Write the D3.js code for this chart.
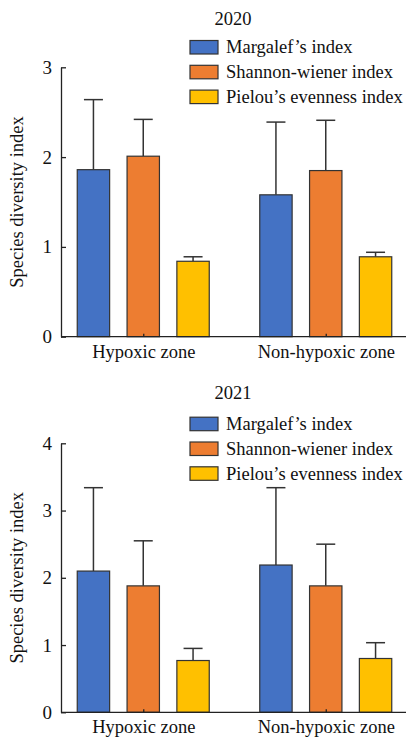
<!DOCTYPE html>
<html>
<head>
<meta charset="utf-8">
<script src="https://cdn.jsdelivr.net/npm/d3@7/dist/d3.min.js"></script>
<style>
  body { margin: 0; background: #fff; }
  svg text { font-family: "Liberation Serif", "Times New Roman", serif; fill: #111; }
</style>
</head>
<body>
<svg id="chart" width="406" height="740"></svg>
<script>
// Data
var zones = ["Hypoxic zone", "Non-hypoxic zone"];
var indices = ["Margalef\u2019s index", "Shannon-wiener index", "Pielou\u2019s evenness index"];
var colors = ["#4472C4", "#ED7D31", "#FFC000"];

// mean per index, [hypoxic, non-hypoxic]
var margalef2020 = [1.86, 1.58];
var shannon2020 = [2.01, 1.85];
var pielou2020 = [0.84, 0.89];
var margalefSd2020 = [0.78, 0.81];
var shannonSd2020 = [0.41, 0.56];
var pielouSd2020 = [0.05, 0.05];

var margalef2021 = [2.10, 2.19];
var shannon2021 = [1.88, 1.88];
var pielou2021 = [0.77, 0.80];
var margalefSd2021 = [1.24, 1.15];
var shannonSd2021 = [0.67, 0.62];
var pielouSd2021 = [0.18, 0.235];

var yTicks2020 = [0, 1, 2, 3];
var yTicks2021 = [0, 1, 2, 3, 4];

var svg = d3.select("svg#chart");

var x0 = d3.scaleBand().domain(zones).range([52, 417]);
var x1 = d3.scaleBand().domain(indices).range([-66, 66]).paddingInner(0.35);

function drawPanel(title, means, sds, ticks, top, bottom, titleY, legendY) {
    var g = svg.append("g");
    var y = d3.scaleLinear().domain([0, d3.max(ticks)]).range([bottom, top]);

    // title
    g.append("text").attr("x", 233).attr("y", titleY).attr("text-anchor", "middle")
        .attr("dy", "0.35em").style("font-size", "18.5px").text(title);

    // bars + error bars
    indices.forEach(function(name, i) {
        zones.forEach(function(z, j) {
            var bx = x0(z) + x0.bandwidth() / 2 + x1(name);
            var cx = bx + x1.bandwidth() / 2;
            var m = means[i][j], s = sds[i][j];
            g.append("line").attr("x1", cx).attr("x2", cx).attr("y1", y(m)).attr("y2", y(m + s))
                .attr("stroke", "#333").attr("stroke-width", 1.5);
            g.append("line").attr("x1", cx - 9.5).attr("x2", cx + 9.5).attr("y1", y(m + s)).attr("y2", y(m + s))
                .attr("stroke", "#333").attr("stroke-width", 1.5);
            g.append("rect").attr("x", bx).attr("y", y(m)).attr("width", x1.bandwidth())
                .attr("height", y(0) - y(m)).attr("fill", colors[i])
                .attr("stroke", "#333").attr("stroke-width", 1.2);
        });
    });

    // y axis
    var yAxis = d3.axisLeft(y).tickValues(ticks).tickFormat(d3.format("d")).tickSizeInner(-5).tickSizeOuter(0).tickPadding(9);
    var ya = g.append("g").attr("transform", "translate(61,0)").call(yAxis);
    ya.selectAll("text").style("font-size", "19px").attr("fill", "#111");
    ya.selectAll("line, path").attr("stroke", "#222").attr("stroke-width", 1.3);

    // x axis
    var xAxis = d3.axisBottom(d3.scalePoint().domain(zones).range([x0(zones[0]) + x0.bandwidth() / 2, x0(zones[1]) + x0.bandwidth() / 2]))
        .tickSizeInner(-3).tickSizeOuter(0).tickPadding(8);
    var xa = g.append("g").attr("transform", "translate(0," + bottom + ")").call(xAxis);
    xa.select("path").remove();
    xa.selectAll("text").style("font-size", "18.5px").attr("fill", "#111");
    xa.selectAll("line").attr("stroke", "#222").attr("stroke-width", 1.3);
    g.append("line").attr("x1", 61).attr("x2", 406).attr("y1", bottom).attr("y2", bottom)
        .attr("stroke", "#222").attr("stroke-width", 1.3);

    // y label
    g.append("text").attr("transform", "translate(17," + (top + bottom) / 2 + ") rotate(-90)")
        .attr("text-anchor", "middle").attr("dy", "0.35em").style("font-size", "18.5px")
        .text("Species diversity index");

    // legend
    var leg = g.append("g").attr("transform", "translate(190," + legendY + ")");
    indices.forEach(function(name, i) {
        leg.append("rect").attr("x", 0).attr("y", i * 24.8 - 6.5).attr("width", 28).attr("height", 13.5)
            .attr("fill", colors[i]).attr("stroke", "#333").attr("stroke-width", 1.2);
        leg.append("text").attr("x", 36).attr("y", i * 24.8).attr("dy", "0.35em")
            .style("font-size", "18.5px").text(name);
    });
}

drawPanel("2020", [margalef2020, shannon2020, pielou2020], [margalefSd2020, shannonSd2020, pielouSd2020],
    yTicks2020, 67.3, 336.7, 19, 47);
drawPanel("2021", [margalef2021, shannon2021, pielou2021], [margalefSd2021, shannonSd2021, pielouSd2021],
    yTicks2021, 443.3, 712.3, 393, 423.7);
</script>
</body>
</html>
